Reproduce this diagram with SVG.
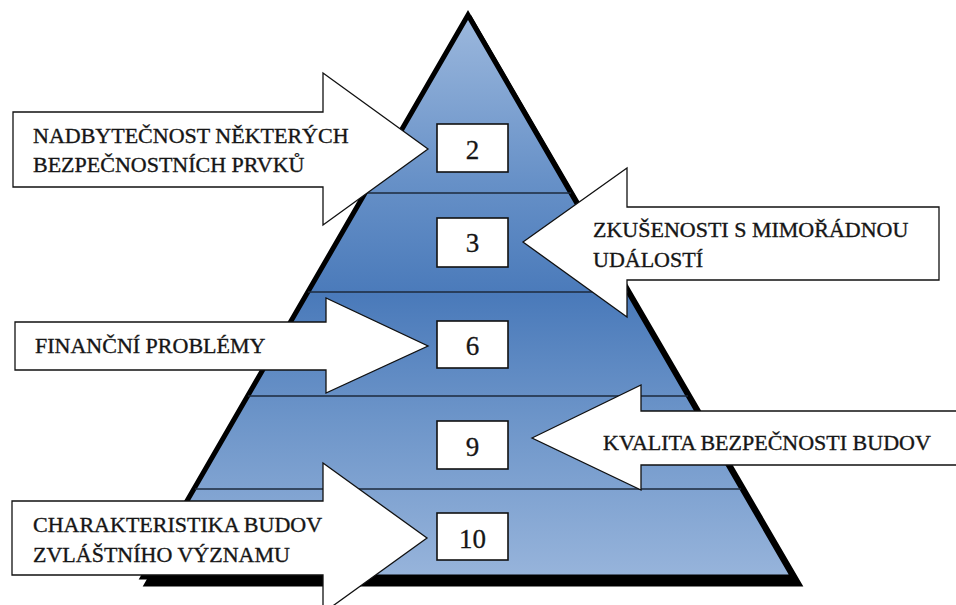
<svg xmlns="http://www.w3.org/2000/svg" width="956" height="605" viewBox="0 0 956 605">
  <defs>
    <linearGradient id="pyrGrad" gradientUnits="userSpaceOnUse" x1="0" y1="15" x2="0" y2="577">
      <stop offset="0" stop-color="#9cb8dd"/>
      <stop offset="0.3" stop-color="#6690c7"/>
      <stop offset="0.5" stop-color="#4a7aba"/>
      <stop offset="0.72" stop-color="#6d95c9"/>
      <stop offset="1" stop-color="#97b4db"/>
    </linearGradient>
  </defs>
  <style>
    .lbl { font-family: "Liberation Serif", "Times New Roman", serif; font-size: 22px; fill: #161616; stroke: #161616; stroke-width: 0.35; }
    .num { font-family: "Liberation Serif", "Times New Roman", serif; font-size: 27px; fill: #161616; stroke: #161616; stroke-width: 0.3; text-anchor: middle; }
    .box { fill: #ffffff; stroke: #111111; stroke-width: 1.6; }
    .arrow { fill: #ffffff; stroke: #111111; stroke-width: 1.3; stroke-linejoin: miter; }
    .band { stroke: #1c2a3c; stroke-width: 1.6; }
  </style>
  <rect width="956" height="605" fill="#ffffff"/>

  <g id="pyramid">
    <polygon points="471,20 799,584 147,584" fill="#000000" stroke="#000000" stroke-width="5"/>
    <polygon points="468,15 793,577 143,577" fill="url(#pyrGrad)" stroke="#000000" stroke-width="5" stroke-linejoin="miter"/>
    <line class="band" x1="365" y1="193" x2="571" y2="193"/>
    <line class="band" x1="308" y1="292" x2="628" y2="292"/>
    <line class="band" x1="248" y1="396" x2="688" y2="396"/>
    <line class="band" x1="195" y1="489" x2="741" y2="489"/>
  </g>

  <g id="level-2">
    <rect class="box" x="437" y="124" width="71" height="48"/>
    <text class="num" x="472.5" y="159">2</text>
  </g>
  <g id="level-3">
    <rect class="box" x="437" y="218" width="71" height="49"/>
    <text class="num" x="472.5" y="252">3</text>
  </g>
  <g id="level-6">
    <rect class="box" x="437" y="321" width="71" height="47"/>
    <text class="num" x="472.5" y="355">6</text>
  </g>
  <g id="level-9">
    <rect class="box" x="437" y="421" width="71" height="48"/>
    <text class="num" x="472.5" y="456">9</text>
  </g>
  <g id="level-10">
    <rect class="box" x="437" y="513" width="71" height="47"/>
    <text class="num" x="472.5" y="548">10</text>
  </g>

  <g id="connectors">
    <g id="arrow-nadbytecnost">
      <polygon class="arrow" points="13,112 323,112 323,73 428,149 323,225 323,187 13,187"/>
      <text class="lbl" x="33" y="143">NADBYTEČNOST NĚKTERÝCH</text>
      <text class="lbl" x="33" y="172">BEZPEČNOSTNÍCH PRVKŮ</text>
    </g>
    <g id="arrow-zkusenosti">
      <polygon class="arrow" points="523,242 627,168 627,207 939,207 939,280 627,280 627,317"/>
      <text class="lbl" x="593" y="237">ZKUŠENOSTI S MIMOŘÁDNOU</text>
      <text class="lbl" x="593" y="267">UDÁLOSTÍ</text>
    </g>
    <g id="arrow-financni">
      <polygon class="arrow" points="15,322 326,322 326,298 428,346 326,393 326,370 15,370"/>
      <text class="lbl" x="35" y="353">FINANČNÍ PROBLÉMY</text>
    </g>
    <g id="arrow-kvalita">
      <polygon class="arrow" points="532,438 641,385 641,411 962,411 962,465 641,465 641,490"/>
      <text class="lbl" x="603" y="450">KVALITA BEZPEČNOSTI BUDOV</text>
    </g>
    <g id="arrow-charakteristika">
      <polygon class="arrow" points="12,501 323,501 323,463 427,538 323,613 323,575 12,575"/>
      <text class="lbl" x="33" y="532">CHARAKTERISTIKA BUDOV</text>
      <text class="lbl" x="33" y="562">ZVLÁŠTNÍHO VÝZNAMU</text>
    </g>
  </g>
</svg>
